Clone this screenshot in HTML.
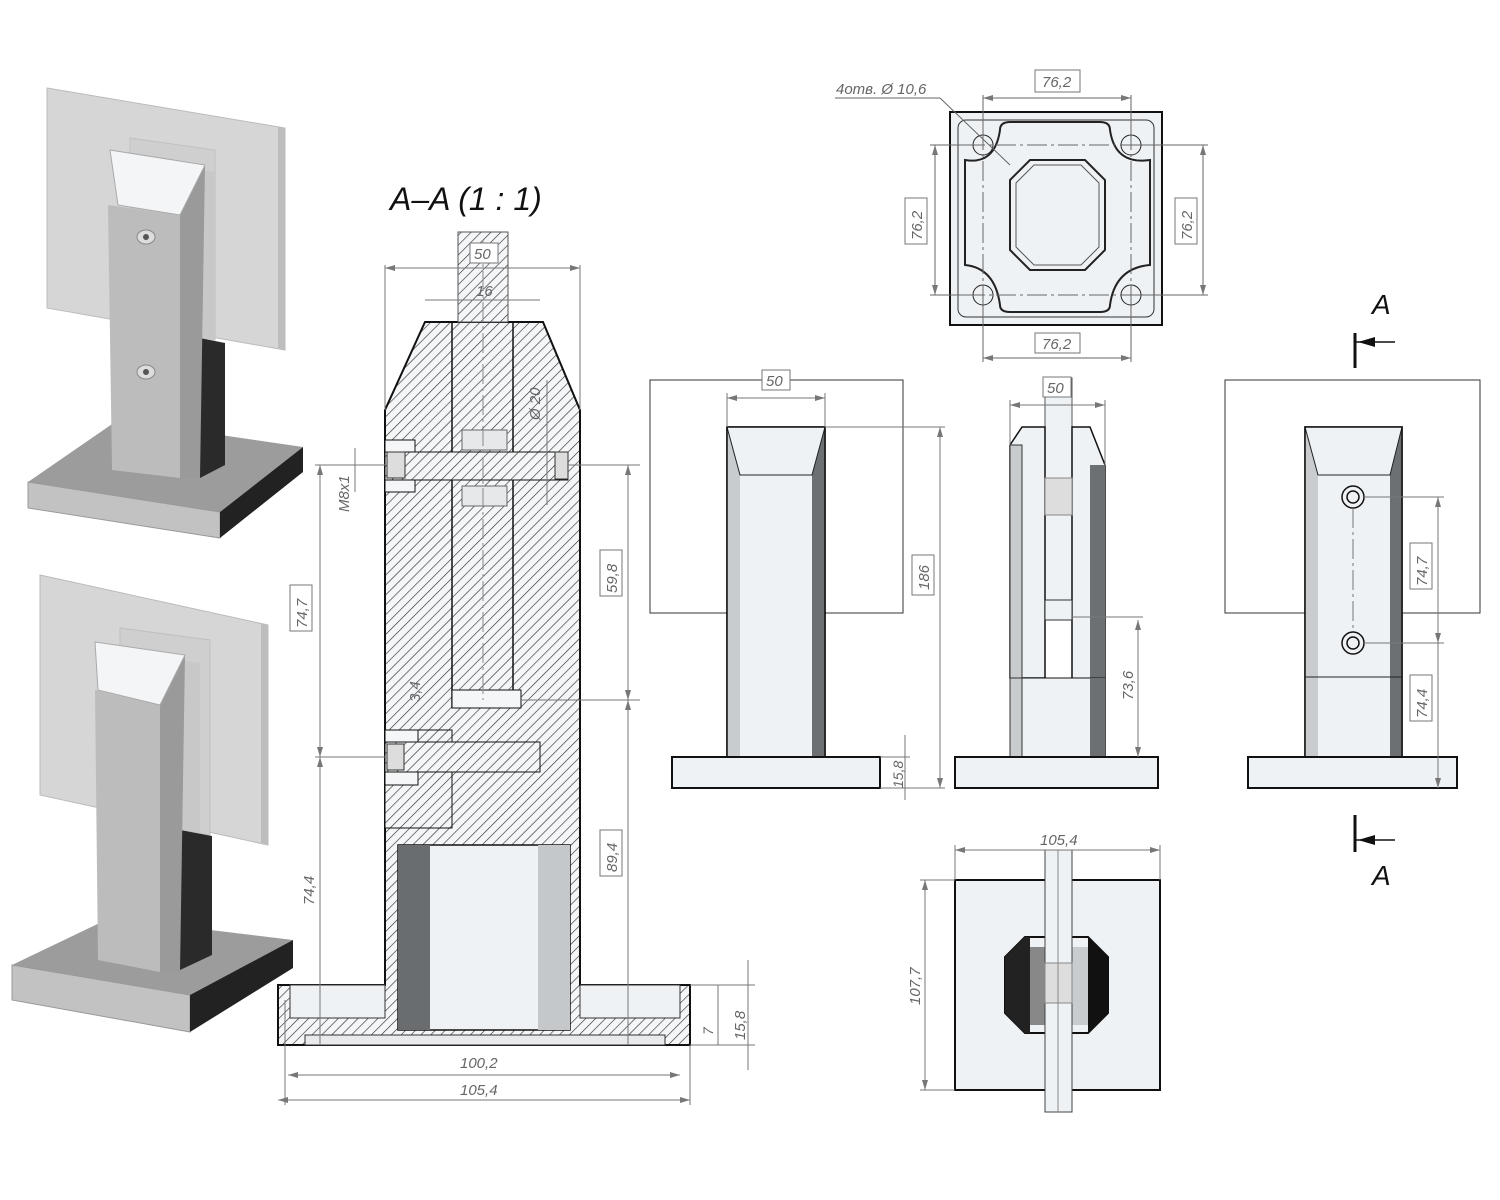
<!DOCTYPE html>
<html><head><meta charset="utf-8"><style>
html,body{margin:0;padding:0;background:#fff;}
svg{display:block;}
text{font-family:"Liberation Sans",sans-serif;font-style:italic;fill:#666;}
</style></head><body>
<svg width="1500" height="1200" viewBox="0 0 1500 1200" xmlns="http://www.w3.org/2000/svg">
<defs>
<pattern id="h" width="7" height="7" patternUnits="userSpaceOnUse" patternTransform="rotate(45)">
<rect width="7" height="7" fill="#f4f6f8"/><line x1="0" y1="0" x2="0" y2="7" stroke="#333" stroke-width="1.3"/></pattern>
<marker id="a" markerWidth="10" markerHeight="6" refX="10" refY="3" orient="auto-start-reverse"><path d="M0,0 L10,3 L0,6 z" fill="#777"/></marker>
</defs>

<!-- 3D view 1 -->
<polygon points="47,88 285,128 285,350 47,308" fill="#d6d6d6" stroke="#bbb"/>
<polygon points="278,127 285,128 285,350 278,348" fill="#bdbdbd"/>
<polygon points="130,138 215,150 215,340 130,325" fill="#cfcfcf" stroke="#c0c0c0"/>
<polygon points="118,420 303,447 220,512 28,482" fill="#9c9c9c"/>
<polygon points="28,482 220,512 220,538 28,508" fill="#c2c2c2" stroke="#999"/>
<polygon points="220,512 303,447 303,472 220,538" fill="#222"/>
<polygon points="200,338 225,343 225,465 200,478" fill="#2a2a2a"/>
<polygon points="200,170 215,172 215,340 200,338" fill="#c8c8c8"/>
<polygon points="108,205 180,215 180,478 112,470" fill="#bcbcbc"/>
<polygon points="180,215 205,165 200,478 180,478" fill="#9a9a9a"/>
<polygon points="110,150 205,165 180,215 118,205" fill="#f3f5f7" stroke="#aaa"/>
<ellipse cx="146" cy="237" rx="9" ry="7" fill="#ddd" stroke="#888"/><circle cx="146" cy="237" r="3" fill="#555"/>
<ellipse cx="146" cy="372" rx="9" ry="7" fill="#ddd" stroke="#888"/><circle cx="146" cy="372" r="3" fill="#555"/>

<!-- 3D view 2 -->
<polygon points="40,575 268,625 268,845 40,795" fill="#d6d6d6" stroke="#bbb"/>
<polygon points="261,624 268,625 268,845 261,843" fill="#bdbdbd"/>
<polygon points="120,628 210,640 210,835 120,820" fill="#cfcfcf" stroke="#c0c0c0"/>
<polygon points="110,918 293,940 190,995 12,965" fill="#9c9c9c"/>
<polygon points="12,965 190,995 190,1032 12,1000" fill="#c2c2c2" stroke="#999"/>
<polygon points="190,995 293,940 293,968 190,1032" fill="#222"/>
<polygon points="180,830 212,836 212,955 180,970" fill="#2a2a2a"/>
<polygon points="180,660 200,663 200,832 180,830" fill="#c8c8c8"/>
<polygon points="95,690 160,705 160,972 98,960" fill="#bcbcbc"/>
<polygon points="160,705 185,655 180,972 160,972" fill="#9a9a9a"/>
<polygon points="95,642 185,655 160,705 98,690" fill="#f3f5f7" stroke="#aaa"/>

<!-- Section A-A -->
<text x="390" y="210" font-size="32" style="fill:#111">A–A (1 : 1)</text>
<polygon points="425,322 543,322 580,410 580,985 690,985 690,1045 278,1045 278,985 385,985 385,410" fill="url(#h)" stroke="#111" stroke-width="2"/>
<rect x="458" y="232" width="50" height="90" fill="url(#h)" stroke="#555"/>
<line x1="452" y1="322" x2="452" y2="708" stroke="#111" stroke-width="1.5"/>
<line x1="513" y1="322" x2="513" y2="708" stroke="#111" stroke-width="1.5"/>
<rect x="452" y="690" width="69" height="18" fill="#f4f6f8" stroke="#111"/>
<rect x="462" y="430" width="45" height="20" fill="#e6e8ea" stroke="#666"/>
<rect x="462" y="486" width="45" height="20" fill="#e6e8ea" stroke="#666"/>
<rect x="385" y="440" width="30" height="52" fill="#f4f6f8" stroke="#111"/>
<rect x="385" y="452" width="183" height="28" fill="url(#h)" stroke="#111"/>
<rect x="387" y="452" width="18" height="26" fill="#ddd" stroke="#333"/>
<rect x="555" y="452" width="13" height="27" fill="#ddd" stroke="#333"/>
<rect x="385" y="730" width="67" height="98" fill="url(#h)" stroke="#111"/>
<rect x="385" y="730" width="33" height="55" fill="#f4f6f8" stroke="#111"/>
<rect x="385" y="742" width="155" height="30" fill="url(#h)" stroke="#111"/>
<rect x="387" y="744" width="17" height="26" fill="#ddd" stroke="#333"/>
<rect x="398" y="845" width="172" height="185" fill="#eef2f5" stroke="#111" stroke-width="1.5"/>
<rect x="398" y="845" width="32" height="185" fill="#6a6d70"/>
<rect x="538" y="845" width="32" height="185" fill="#c5c8ca"/>
<rect x="290" y="985" width="95" height="33" fill="#eef2f5" stroke="#333"/>
<rect x="580" y="985" width="100" height="33" fill="#eef2f5" stroke="#333"/>
<rect x="305" y="1035" width="360" height="10" fill="#e8eaec" stroke="#333"/>
<line x1="483" y1="240" x2="483" y2="700" stroke="#888" stroke-dasharray="20,4,3,4"/>
<g stroke="#777" stroke-width="1" fill="none">
<line x1="385" y1="268" x2="580" y2="268" marker-start="url(#a)" marker-end="url(#a)"/>
<line x1="385" y1="265" x2="385" y2="410"/><line x1="580" y1="265" x2="580" y2="410"/>
<line x1="425" y1="300" x2="540" y2="300"/>
<line x1="285" y1="1000" x2="285" y2="1105"/><line x1="690" y1="1045" x2="690" y2="1105"/>
<line x1="278" y1="1100" x2="690" y2="1100" marker-start="url(#a)" marker-end="url(#a)"/>
<line x1="288" y1="1075" x2="680" y2="1075" marker-start="url(#a)" marker-end="url(#a)"/>
<line x1="320" y1="465" x2="320" y2="757" marker-start="url(#a)" marker-end="url(#a)"/>
<line x1="320" y1="757" x2="320" y2="1045" marker-start="url(#a)"/>
<line x1="315" y1="465" x2="385" y2="465"/><line x1="315" y1="757" x2="385" y2="757"/>
<line x1="628" y1="465" x2="628" y2="700" marker-start="url(#a)" marker-end="url(#a)"/>
<line x1="628" y1="700" x2="628" y2="1045" marker-start="url(#a)"/>
<line x1="568" y1="465" x2="640" y2="465"/><line x1="520" y1="700" x2="640" y2="700"/>
<line x1="355" y1="448" x2="355" y2="492"/>
<line x1="547" y1="380" x2="547" y2="505"/>
<line x1="718" y1="985" x2="718" y2="1045"/><line x1="748" y1="960" x2="748" y2="1070"/>
<line x1="690" y1="985" x2="755" y2="985"/><line x1="690" y1="1045" x2="755" y2="1045"/>
</g>
<rect x="470" y="243" width="28" height="20" fill="#fff" stroke="#777"/><text x="474" y="259" font-size="15">50</text>
<text x="476" y="296" font-size="15">16</text>
<text x="540" y="420" font-size="15" transform="rotate(-90 540 420)">Ø 20</text>
<text x="349" y="512" font-size="15" transform="rotate(-90 349 512)">M8x1</text>
<rect x="290" y="585" width="22" height="46" fill="#fff" stroke="#777"/><text x="307" y="628" font-size="15" transform="rotate(-90 307 628)">74,7</text>
<text x="314" y="905" font-size="15" transform="rotate(-90 314 905)">74,4</text>
<rect x="600" y="550" width="22" height="46" fill="#fff" stroke="#777"/><text x="617" y="593" font-size="15" transform="rotate(-90 617 593)">59,8</text>
<rect x="600" y="830" width="22" height="46" fill="#fff" stroke="#777"/><text x="617" y="872" font-size="15" transform="rotate(-90 617 872)">89,4</text>
<text x="420" y="702" font-size="15" transform="rotate(-90 420 702)">3,4</text>
<text x="460" y="1068" font-size="15">100,2</text>
<text x="460" y="1095" font-size="15">105,4</text>
<text x="713" y="1035" font-size="14" transform="rotate(-90 713 1035)">7</text>
<text x="745" y="1040" font-size="15" transform="rotate(-90 745 1040)">15,8</text>

<!-- Top view -->
<rect x="950" y="112" width="212" height="213" fill="#eef2f5" stroke="#111" stroke-width="2"/>
<rect x="958" y="120" width="196" height="197" rx="8" fill="none" stroke="#333"/>
<path d="M1000,130 Q1000,122 1010,122 L1100,122 Q1110,122 1110,130 Q1115,165 1150,160 L1150,265 Q1115,268 1110,305 Q1110,312 1100,312 L1010,312 Q1000,312 1000,305 Q995,268 965,265 L965,160 Q995,165 1000,130 Z" fill="#eef2f5" stroke="#222" stroke-width="2"/>
<polygon points="1030,160 1085,160 1105,180 1105,250 1085,270 1030,270 1010,250 1010,180" fill="#eef2f5" stroke="#222" stroke-width="2"/>
<polygon points="1034,165 1081,165 1099,183 1099,247 1081,265 1034,265 1016,247 1016,183" fill="none" stroke="#555"/>
<g fill="#eef2f5" stroke="#222"><circle cx="983" cy="145" r="10"/><circle cx="1131" cy="145" r="10"/><circle cx="983" cy="295" r="10"/><circle cx="1131" cy="295" r="10"/></g>
<g stroke="#666" fill="none">
<path d="M983,130 V310 M1131,130 V310 M965,145 H1150 M965,295 H1150" stroke-dasharray="20,4,3,4"/>
<line x1="983" y1="98" x2="1131" y2="98" marker-start="url(#a)" marker-end="url(#a)"/>
<line x1="983" y1="358" x2="1131" y2="358" marker-start="url(#a)" marker-end="url(#a)"/>
<line x1="983" y1="95" x2="983" y2="135"/><line x1="1131" y1="95" x2="1131" y2="135"/>
<line x1="983" y1="305" x2="983" y2="362"/><line x1="1131" y1="305" x2="1131" y2="362"/>
<line x1="935" y1="145" x2="935" y2="295" marker-start="url(#a)" marker-end="url(#a)"/>
<line x1="1203" y1="145" x2="1203" y2="295" marker-start="url(#a)" marker-end="url(#a)"/>
<line x1="930" y1="145" x2="975" y2="145"/><line x1="930" y1="295" x2="975" y2="295"/>
<line x1="1140" y1="145" x2="1208" y2="145"/><line x1="1140" y1="295" x2="1208" y2="295"/>
<line x1="835" y1="98" x2="940" y2="98"/><line x1="940" y1="98" x2="1010" y2="165"/>
</g>
<rect x="1035" y="70" width="45" height="22" fill="#fff" stroke="#777"/><text x="1042" y="87" font-size="15">76,2</text>
<rect x="1035" y="333" width="45" height="20" fill="#fff" stroke="#777"/><text x="1042" y="349" font-size="15">76,2</text>
<rect x="905" y="198" width="22" height="46" fill="#fff" stroke="#777"/><text x="922" y="240" font-size="15" transform="rotate(-90 922 240)">76,2</text>
<rect x="1175" y="198" width="22" height="46" fill="#fff" stroke="#777"/><text x="1192" y="240" font-size="15" transform="rotate(-90 1192 240)">76,2</text>
<text x="836" y="94" font-size="15">4отв. Ø 10,6</text>

<!-- Front view -->
<rect x="650" y="380" width="253" height="233" fill="none" stroke="#333"/>
<rect x="727" y="427" width="98" height="330" fill="#eef2f5" stroke="#111" stroke-width="1.5"/>
<rect x="727" y="427" width="13" height="330" fill="#c9ccce"/>
<rect x="812" y="427" width="13" height="330" fill="#6d7073"/>
<polygon points="727,427 825,427 812,475 740,475" fill="#eef2f5" stroke="#222"/>
<rect x="727" y="427" width="98" height="330" fill="none" stroke="#111" stroke-width="1.5"/>
<rect x="672" y="757" width="208" height="31" fill="#eef2f5" stroke="#111" stroke-width="2"/>
<g stroke="#777" fill="none">
<line x1="727" y1="398" x2="825" y2="398" marker-start="url(#a)" marker-end="url(#a)"/>
<line x1="727" y1="393" x2="727" y2="427"/><line x1="825" y1="393" x2="825" y2="427"/>
<line x1="940" y1="427" x2="940" y2="788" marker-start="url(#a)" marker-end="url(#a)"/>
<line x1="825" y1="427" x2="945" y2="427"/><line x1="880" y1="788" x2="945" y2="788"/>
<line x1="905" y1="735" x2="905" y2="800"/><line x1="880" y1="757" x2="910" y2="757"/>
</g>
<rect x="762" y="370" width="28" height="20" fill="#fff" stroke="#777"/><text x="766" y="386" font-size="15">50</text>
<rect x="912" y="555" width="22" height="40" fill="#fff" stroke="#777"/><text x="929" y="590" font-size="15" transform="rotate(-90 929 590)">186</text>
<text x="903" y="788" font-size="14" transform="rotate(-90 903 788)">15,8</text>

<!-- Side view -->
<rect x="1045" y="378" width="27" height="242" fill="#eef2f5" stroke="#555"/>
<polygon points="1010,445 1022,427 1045,427 1045,678 1010,678" fill="#eef2f5" stroke="#111" stroke-width="1.5"/>
<rect x="1010" y="445" width="12" height="312" fill="#c9ccce" stroke="#333"/>
<polygon points="1072,427 1090,427 1105,465 1105,757 1072,757 1072,620" fill="#eef2f5" stroke="#111" stroke-width="1.5"/>
<rect x="1090" y="465" width="15" height="292" fill="#6d7073"/>
<rect x="1022" y="678" width="83" height="79" fill="#eef2f5" stroke="#111"/>
<rect x="1010" y="678" width="12" height="79" fill="#c9ccce" stroke="#333"/>
<rect x="1090" y="678" width="15" height="79" fill="#6d7073"/>
<rect x="1045" y="478" width="27" height="37" fill="#ddd" stroke="#888"/>
<rect x="1045" y="600" width="27" height="20" fill="#eef2f5" stroke="#333"/>
<rect x="955" y="757" width="203" height="31" fill="#eef2f5" stroke="#111" stroke-width="2"/>
<g stroke="#777" fill="none">
<line x1="1010" y1="405" x2="1105" y2="405" marker-start="url(#a)" marker-end="url(#a)"/>
<line x1="1010" y1="400" x2="1010" y2="445"/><line x1="1105" y1="400" x2="1105" y2="465"/>
<line x1="1138" y1="620" x2="1138" y2="757" marker-start="url(#a)" marker-end="url(#a)"/>
<line x1="1072" y1="617" x2="1143" y2="617"/>
</g>
<rect x="1043" y="377" width="28" height="20" fill="#fff" stroke="#777"/><text x="1047" y="393" font-size="15">50</text>
<text x="1133" y="700" font-size="15" transform="rotate(-90 1133 700)">73,6</text>

<!-- Rear view -->
<rect x="1225" y="380" width="255" height="233" fill="none" stroke="#333"/>
<rect x="1305" y="427" width="97" height="330" fill="#eef2f5" stroke="#111" stroke-width="1.5"/>
<rect x="1305" y="427" width="13" height="330" fill="#c9ccce"/>
<rect x="1390" y="427" width="12" height="330" fill="#6d7073"/>
<polygon points="1305,427 1402,427 1390,475 1318,475" fill="#eef2f5" stroke="#222"/>
<rect x="1305" y="427" width="97" height="330" fill="none" stroke="#111" stroke-width="1.5"/>
<line x1="1305" y1="677" x2="1402" y2="677" stroke="#222"/>
<g fill="#eef2f5" stroke="#111" stroke-width="1.5"><circle cx="1353" cy="497" r="11"/><circle cx="1353" cy="497" r="6"/><circle cx="1353" cy="643" r="11"/><circle cx="1353" cy="643" r="6"/></g>
<line x1="1353" y1="508" x2="1353" y2="632" stroke="#777" stroke-dasharray="20,4,3,4"/>
<rect x="1248" y="757" width="209" height="31" fill="#eef2f5" stroke="#111" stroke-width="2"/>
<g stroke="#777" fill="none">
<line x1="1438" y1="497" x2="1438" y2="643" marker-start="url(#a)" marker-end="url(#a)"/>
<line x1="1438" y1="643" x2="1438" y2="788" marker-end="url(#a)"/>
<line x1="1364" y1="497" x2="1444" y2="497"/><line x1="1364" y1="643" x2="1444" y2="643"/>
</g>
<rect x="1410" y="543" width="22" height="46" fill="#fff" stroke="#777"/><text x="1427" y="586" font-size="15" transform="rotate(-90 1427 586)">74,7</text>
<rect x="1410" y="675" width="22" height="46" fill="#fff" stroke="#777"/><text x="1427" y="718" font-size="15" transform="rotate(-90 1427 718)">74,4</text>

<!-- Section markers -->
<line x1="1355" y1="333" x2="1355" y2="368" stroke="#111" stroke-width="3"/>
<line x1="1355" y1="342" x2="1395" y2="342" stroke="#111" stroke-width="1.5"/>
<path d="M1358,342 L1375,337 L1375,347 Z" fill="#111"/>
<text x="1372" y="314" font-size="28" style="fill:#111">A</text>
<line x1="1355" y1="815" x2="1355" y2="852" stroke="#111" stroke-width="3"/>
<line x1="1355" y1="840" x2="1395" y2="840" stroke="#111" stroke-width="1.5"/>
<path d="M1358,840 L1375,835 L1375,845 Z" fill="#111"/>
<text x="1372" y="885" font-size="28" style="fill:#111">A</text>

<!-- Bottom view -->
<rect x="955" y="880" width="205" height="210" fill="#eef2f5" stroke="#111" stroke-width="2"/>
<polygon points="1025,937 1088,937 1108,957 1108,1013 1088,1033 1025,1033 1005,1013 1005,957" fill="#eef2f5" stroke="#111" stroke-width="2"/>
<polygon points="1025,937 1030,937 1030,1033 1025,1033 1005,1013 1005,957" fill="#222"/>
<polygon points="1030,947 1045,947 1045,1025 1030,1025" fill="#888"/>
<polygon points="1088,937 1108,957 1108,1013 1088,1033" fill="#111"/>
<polygon points="1072,947 1088,947 1088,1025 1072,1025" fill="#c9ccce"/>
<rect x="1045" y="850" width="27" height="262" fill="#eef2f5" stroke="#444"/>
<rect x="1045" y="963" width="27" height="40" fill="#ddd" stroke="#888"/>
<line x1="1058" y1="850" x2="1058" y2="1112" stroke="#888"/>
<g stroke="#777" fill="none">
<line x1="955" y1="850" x2="1160" y2="850" marker-start="url(#a)" marker-end="url(#a)"/>
<line x1="955" y1="845" x2="955" y2="880"/><line x1="1160" y1="845" x2="1160" y2="880"/>
<line x1="925" y1="880" x2="925" y2="1090" marker-start="url(#a)" marker-end="url(#a)"/>
<line x1="920" y1="880" x2="955" y2="880"/><line x1="920" y1="1090" x2="955" y2="1090"/>
</g>
<text x="1040" y="845" font-size="15">105,4</text>
<text x="920" y="1005" font-size="15" transform="rotate(-90 920 1005)">107,7</text>
</svg>
</body></html>
